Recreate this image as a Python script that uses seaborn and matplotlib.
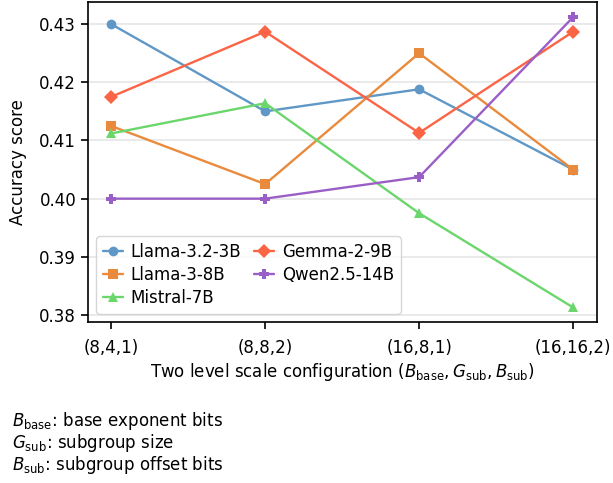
import matplotlib
matplotlib.use("Agg")
import matplotlib.pyplot as plt
import seaborn as sns
import pandas as pd

configs = ["(8,4,1)", "(8,8,2)", "(16,8,1)", "(16,16,2)"]
models = ["Llama-3.2-3B", "Llama-3-8B", "Mistral-7B", "Gemma-2-9B", "Qwen2.5-14B"]
llama32_3b = [0.4300, 0.4150, 0.4188, 0.4050]
llama3_8b = [0.4125, 0.4025, 0.4250, 0.4050]
mistral_7b = [0.4112, 0.4164, 0.3975, 0.3813]
gemma2_9b = [0.4175, 0.4287, 0.4113, 0.4287]
qwen25_14b = [0.4000, 0.4000, 0.4037, 0.4312]

colors = ["#5f98c6", "#ea8a3c", "#6bd66b", "#fb6445", "#9a5fc7"]
markers = ["o", "s", "^", "D", "P"]

rows = []
for name, vals in zip(models, [llama32_3b, llama3_8b, mistral_7b, gemma2_9b, qwen25_14b]):
    for i, v in enumerate(vals):
        rows.append({"config": i, "model": name, "acc": v})
df = pd.DataFrame(rows)

sns.set_style("ticks")
plt.rcParams["font.family"] = ["DejaVu Sans"]
plt.rcParams["font.size"] = 12
for k in ["text.color", "axes.labelcolor", "xtick.color", "ytick.color"]:
    plt.rcParams[k] = "black"

fig = plt.figure(figsize=(6.13, 4.83), dpi=100)
ax = fig.add_axes([0.1436, 0.3333, 0.8303, 0.6626])

sns.lineplot(data=df, x="config", y="acc", hue="model", style="model",
             hue_order=models, style_order=models, palette=colors,
             markers=markers, dashes=False, markersize=7, linewidth=1.7,
             markeredgewidth=0, ax=ax)

ax.set_xlim(-0.15, 3.155)
ax.set_ylim(0.3788, 0.4338)
ax.set_xticks(range(len(configs)))
ax.set_xticklabels(configs, fontsize=12)
ax.set_yticks([0.38, 0.39, 0.40, 0.41, 0.42, 0.43])
ax.set_yticklabels(["0.38", "0.39", "0.40", "0.41", "0.42", "0.43"], fontsize=12)
ax.yaxis.grid(True, color="#e6e6e6", linewidth=1.2)
ax.set_axisbelow(True)
for s in ax.spines.values():
    s.set_color("black")
    s.set_linewidth(1.2)
ax.tick_params(axis="both", direction="out", length=5, width=1.2, color="black")
ax.tick_params(axis="x", pad=7)

ax.set_xlabel(r"Two level scale configuration ($B_\mathrm{base}, G_\mathrm{sub}, B_\mathrm{sub}$)",
              fontsize=12, labelpad=3)
ax.set_ylabel("Accuracy score", fontsize=12, labelpad=9)

ax.legend(loc="lower left", ncol=2, fontsize=12, frameon=True, framealpha=0.8,
          edgecolor="#cccccc", columnspacing=0.8, handlelength=1.2,
          borderaxespad=0.5, handletextpad=0.45, labelspacing=0.3)

fig.text(0.02, 0.128, r"$B_\mathrm{base}$: base exponent bits", fontsize=12, va="center")
fig.text(0.02, 0.083, r"$G_\mathrm{sub}$: subgroup size", fontsize=12, va="center")
fig.text(0.02, 0.037, r"$B_\mathrm{sub}$: subgroup offset bits", fontsize=12, va="center")

fig.savefig("out.png", dpi=100)
